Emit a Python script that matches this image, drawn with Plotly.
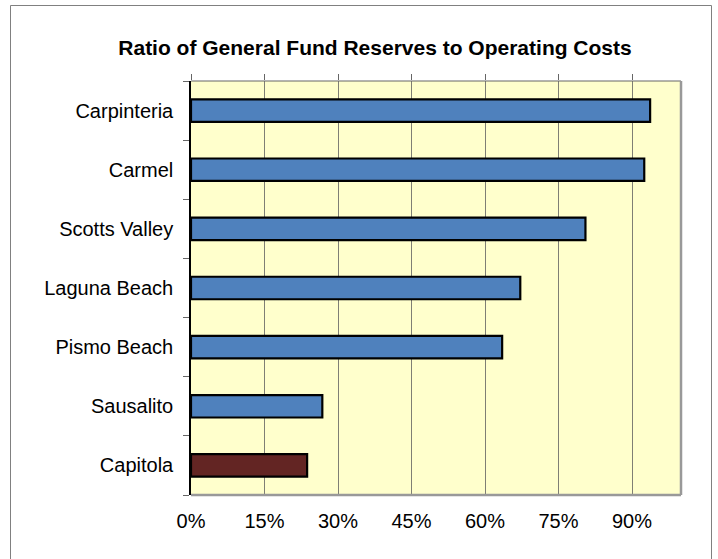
import plotly.graph_objects as go

# Data
cities = ["Carpinteria", "Carmel", "Scotts Valley", "Laguna Beach",
          "Pismo Beach", "Sausalito", "Capitola"]
reserve_ratio = [0.937, 0.925, 0.805, 0.672, 0.635, 0.268, 0.237]
highlight_city = "Capitola"

tick_values = [0, 0.15, 0.30, 0.45, 0.60, 0.75, 0.90]
tick_labels = ["0%", "15%", "30%", "45%", "60%", "75%", "90%"]

# Styling
W, H = 718, 559
ML, MR, MT, MB = 191, 37, 81, 64
BLUE = "#4F81BD"
MAROON = "#632523"
FONT = "Liberation Sans, Arial, sans-serif"

bar_colors = [MAROON if c == highlight_city else BLUE for c in cities]

fig = go.Figure()
fig.add_trace(go.Bar(
    y=cities, x=reserve_ratio, orientation="h",
    marker=dict(color=bar_colors, line=dict(color="black", width=2.2)),
    width=0.38, hoverinfo="x+y",
))
# empty trace so the top tick-mark axis is drawn
fig.add_trace(go.Scatter(x=[None], y=[None], xaxis="x2", showlegend=False,
                         hoverinfo="skip"))

pw = W - ML - MR
ph = H - MT - MB

def px_x(p):
    return (p - ML) / pw

def px_y(p):
    return 1 - (p - MT) / ph

shapes = [
    # plot area frame (top, right, bottom)
    dict(type="line", xref="paper", yref="paper", x0=0, x1=1, y0=1, y1=1,
         line=dict(color="#666666", width=1), layer="above"),
    dict(type="line", xref="paper", yref="paper", x0=1, x1=1, y0=0, y1=1,
         line=dict(color="#999999", width=2.5), layer="above"),
    dict(type="line", xref="paper", yref="paper", x0=0, x1=1, y0=0, y1=0,
         line=dict(color="#999999", width=2.5), layer="above"),
    # outer chart border
    dict(type="rect", xref="paper", yref="paper",
         x0=px_x(10.5), x1=px_x(711.5), y0=px_y(575), y1=px_y(5.5),
         line=dict(color="#808080", width=1), layer="above"),
]

fig.update_layout(
    width=W, height=H,
    margin=dict(l=ML, r=MR, t=MT, b=MB, pad=0),
    paper_bgcolor="white",
    plot_bgcolor="#FFFFCC",
    showlegend=False,
    font=dict(family=FONT, size=20, color="black"),
    title=dict(text="<b>Ratio of General Fund Reserves to Operating Costs</b>",
               x=375 / W, xanchor="center", xref="container",
               y=1 - 48 / H, yanchor="middle",
               font=dict(family=FONT, size=21, color="black")),
    xaxis=dict(range=[0, 1], tickvals=tick_values, ticktext=tick_labels,
               showgrid=True, gridcolor="#7f7f74", gridwidth=1,
               zeroline=False, showline=False, ticks="",
               ticklabelstandoff=12, fixedrange=True),
    xaxis2=dict(range=[0, 1], overlaying="x", side="top",
                tickvals=tick_values, ticks="outside", ticklen=6,
                tickcolor="#666666", showticklabels=False, showgrid=False,
                zeroline=False, showline=False, fixedrange=True),
    yaxis=dict(type="category", categoryorder="array",
               categoryarray=cities[::-1], tickson="boundaries",
               ticks="outside", ticklen=6, tickcolor="#666666",
               showline=True, linecolor="black", linewidth=1.5,
               showgrid=False, ticklabelstandoff=12, fixedrange=True),
    bargap=0.6,
    shapes=shapes,
)

fig.write_html("out.html", config={"displayModeBar": False})
